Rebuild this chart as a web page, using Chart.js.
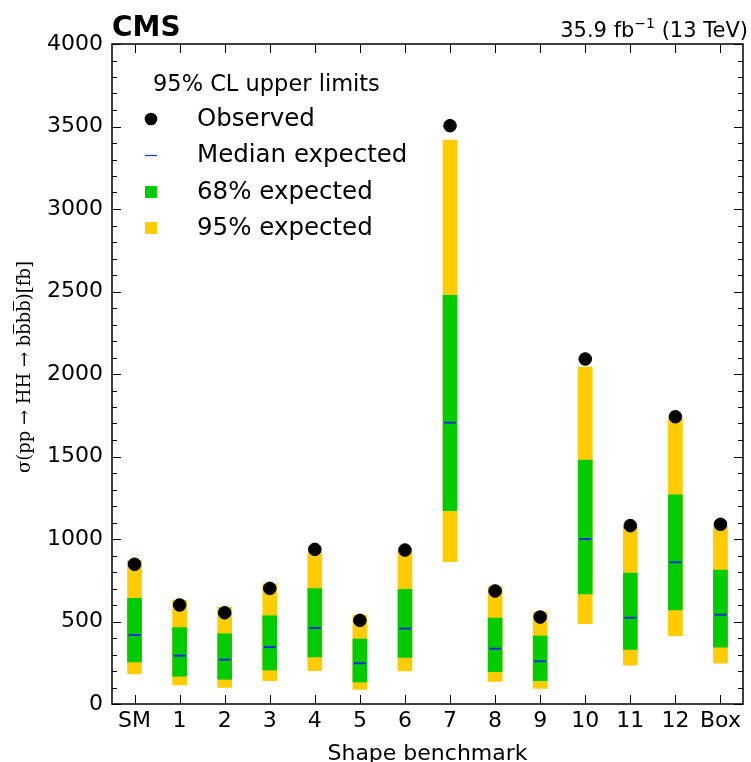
<!DOCTYPE html>
<html>
<head>
<meta charset="utf-8">
<script src="https://cdn.jsdelivr.net/npm/chart.js@4/dist/chart.umd.min.js"></script>
<style>
  html, body { margin: 0; padding: 0; background: #fff; overflow: hidden; }
  #wrap { width: 751px; height: 775px; position: relative; }
</style>
</head>
<body>
<div id="wrap"><canvas id="limitChart"></canvas></div>
<script>
'use strict';

// benchmarks and limits [fb]
var categories = ['SM', '1', '2', '3', '4', '5', '6', '7', '8', '9', '10', '11', '12', 'Box'];
var observed = [847, 600, 553, 701, 937, 507, 933, 3505, 685, 527, 2091, 1081, 1741, 1089];
var median   = [418, 293, 269, 345, 461, 247, 457, 1705, 335, 259, 1000, 523, 859, 541];
var lo68     = [255, 168, 150, 206, 285, 133, 283, 1172, 196, 141, 667, 331, 570, 344];
var hi68     = [640, 463, 426, 535, 699, 394, 695, 2477, 521, 412, 1479, 794, 1267, 812];
var lo95     = [182, 115, 101, 141, 202, 89, 200, 862, 137, 95, 487, 236, 414, 247];
var hi95     = [873, 630, 588, 729, 920, 539, 925, 3418, 711, 557, 2042, 1070, 1730, 1075];

var YELLOW = '#ffcc00';
var GREEN = '#00cc00';
var BLUE = '#1a2fd8';
var FONT = "'DejaVu Sans', sans-serif";
var SERIF = "'DejaVu Serif', serif";

function band(lo, hi) {
  return lo.map(function(v, i) { return [v, hi[i]]; });
}

// y title with barred b's, drawn rotated
function drawYTitle(ctx, cx, cy) {
  var parts = [
    { t: 'σ(pp → HH → b', bar: false },
    { t: 'b', bar: true },
    { t: 'b', bar: false },
    { t: 'b', bar: true },
    { t: ')[fb]', bar: false }
  ];
  ctx.save();
  ctx.translate(cx, cy);
  ctx.rotate(-Math.PI / 2);
  ctx.font = '18px ' + SERIF;
  ctx.textBaseline = 'middle';
  ctx.textAlign = 'left';
  var total = 0;
  parts.forEach(function(p) { p.w = ctx.measureText(p.t).width; total += p.w; });
  var x = -total / 2;
  ctx.lineWidth = 1;
  parts.forEach(function(p) {
    ctx.fillText(p.t, x, 0);
    if (p.bar) {
      ctx.beginPath();
      ctx.moveTo(x + 1, -11.5);
      ctx.lineTo(x + p.w - 1, -11.5);
      ctx.stroke();
    }
    x += p.w;
  });
  ctx.restore();
}

// inward ticks, frame, header and legend
var cmsDecor = {
  id: 'cmsDecor',
  afterDraw: function(chart) {
    var ctx = chart.ctx;
    var a = chart.chartArea;
    var ys = chart.scales.y;
    var xs = chart.scales.x;
    ctx.save();
    ctx.strokeStyle = '#000';
    ctx.lineWidth = 1.5;
    ctx.strokeRect(a.left, a.top, a.right - a.left, a.bottom - a.top);

    ctx.lineWidth = 1;
    ctx.beginPath();
    for (var v = 0; v <= 4000; v += 100) {
      var py = Math.round(ys.getPixelForValue(v)) + 0.5;
      var len = (v % 500 === 0) ? 9 : 5;
      ctx.moveTo(a.left, py); ctx.lineTo(a.left + len, py);
      ctx.moveTo(a.right, py); ctx.lineTo(a.right - len, py);
    }
    for (var i = 0; i < categories.length; i++) {
      var px = Math.round(xs.getPixelForValue(i)) + 0.5;
      ctx.moveTo(px, a.bottom); ctx.lineTo(px, a.bottom - 9);
      ctx.moveTo(px, a.top); ctx.lineTo(px, a.top + 9);
    }
    ctx.stroke();

    drawYTitle(ctx, 25, 367);

    // header
    ctx.fillStyle = '#000';
    ctx.textBaseline = 'alphabetic';
    ctx.textAlign = 'left';
    ctx.font = 'bold 28px ' + FONT;
    ctx.fillText('CMS', 112, 36);
    ctx.font = '21px ' + FONT;
    ctx.textAlign = 'right';
    var tail = ' (13 TeV)';
    var wTail = ctx.measureText(tail).width;
    ctx.fillText(tail, 748, 37);
    ctx.font = '14px ' + FONT;
    var sup = '\u22121';
    var wSup = ctx.measureText(sup).width;
    ctx.fillText(sup, 748 - wTail, 28);
    ctx.font = '21px ' + FONT;
    ctx.fillText('35.9 fb', 748 - wTail - wSup, 37);

    // legend
    ctx.textAlign = 'left';
    ctx.textBaseline = 'middle';
    ctx.font = '22.5px ' + FONT;
    ctx.fillText('95% CL upper limits', 153, 85);
    ctx.font = '24.5px ' + FONT;
    var rows = [
      { y: 119, text: 'Observed', kind: 'dot' },
      { y: 155, text: 'Median expected', kind: 'dash' },
      { y: 192, text: '68% expected', kind: GREEN },
      { y: 228, text: '95% expected', kind: YELLOW }
    ];
    rows.forEach(function(r) {
      if (r.kind === 'dot') {
        ctx.beginPath();
        ctx.arc(151, r.y, 6.3, 0, Math.PI * 2);
        ctx.fill();
      } else if (r.kind === 'dash') {
        ctx.beginPath();
        ctx.strokeStyle = BLUE;
        ctx.lineWidth = 1.2;
        ctx.moveTo(145, r.y + 0.5); ctx.lineTo(157, r.y + 0.5);
        ctx.stroke();
      } else {
        ctx.fillStyle = r.kind;
        ctx.fillRect(145, r.y - 6, 12, 12);
        ctx.fillStyle = '#000';
      }
      ctx.fillText(r.text, 197, r.y + 1);
    });
    ctx.restore();
  }
};

var ctx = document.getElementById('limitChart').getContext('2d');
var limitChart = new Chart(ctx, {
  type: 'bar',
  data: {
    labels: categories,
    datasets: [{
      type: 'line',
      label: 'Observed',
      data: observed,
      showLine: false,
      pointRadius: 6.3,
      pointBackgroundColor: '#000',
      pointBorderColor: '#000',
      order: 0
    }, {
      type: 'line',
      label: 'Median expected',
      data: median,
      showLine: false,
      pointStyle: 'line',
      pointRadius: 6,
      pointBorderWidth: 2,
      pointBorderColor: BLUE,
      order: 1
    }, {
      label: '68% expected',
      data: band(lo68, hi68),
      backgroundColor: GREEN,
      barThickness: 14,
      grouped: false,
      order: 2
    }, {
      label: '95% expected',
      data: band(lo95, hi95),
      backgroundColor: YELLOW,
      barThickness: 14,
      grouped: false,
      order: 3
    }]
  },
  options: {
    responsive: true,
    maintainAspectRatio: false,
    animation: false,
    layout: { padding: { top: 44, right: 3, left: 0, bottom: 0 } },
    plugins: {
      legend: { display: false },
      tooltip: { enabled: false }
    },
    scales: {
      x: {
        offset: true,
        grid: { display: false, drawTicks: false },
        border: { display: false },
        afterFit: function(s) { s.height = 71; },
        ticks: { color: '#000', font: { family: FONT, size: 22 }, padding: 4, maxRotation: 0, autoSkip: false },
        title: { display: true, text: 'Shape benchmark', color: '#000', font: { family: FONT, size: 22 }, padding: { top: 0, bottom: 8 } }
      },
      y: {
        min: 0,
        max: 4000,
        grid: { display: false, drawTicks: false },
        border: { display: false },
        afterFit: function(s) { s.width = 112; },
        ticks: {
          stepSize: 500,
          color: '#000',
          font: { family: FONT, size: 22 },
          padding: 9,
          callback: function(v) { return String(v); }
        }
      }
    }
  },
  plugins: [cmsDecor]
});
</script>
</body>
</html>
